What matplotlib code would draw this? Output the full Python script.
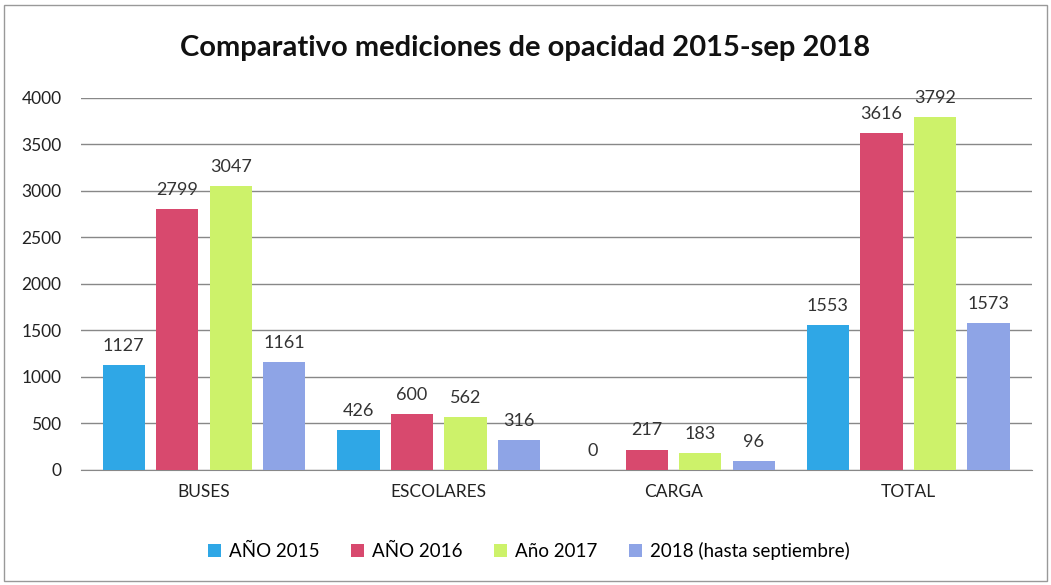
import matplotlib.pyplot as plt
import numpy as np

plt.rcParams['font.family'] = ['Lato', 'DejaVu Sans']

categorias = ['BUSES', 'ESCOLARES', 'CARGA', 'TOTAL']
series = ['AÑO 2015', 'AÑO 2016', 'Año 2017', '2018 (hasta septiembre)']
anio_2015 = [1127, 426, 0, 1553]
anio_2016 = [2799, 600, 217, 3616]
anio_2017 = [3047, 562, 183, 3792]
anio_2018 = [1161, 316, 96, 1573]
colores = ['#2fa7e6', '#d8496e', '#cdf26a', '#8ea4e6']

fig = plt.figure(figsize=(10.51, 5.85), dpi=100)
ax = fig.add_axes([0.077, 0.197, 0.905, 0.636])

x = np.arange(len(categorias))
ancho = 0.18
paso = 0.228
valores = [anio_2015, anio_2016, anio_2017, anio_2018]
for i, (vals, nombre, c) in enumerate(zip(valores, series, colores)):
    pos = x + (i - 1.5) * paso
    ax.bar(pos, vals, width=ancho, color=c, label=nombre, zorder=3)
    for p, v in zip(pos, vals):
        ax.text(p, v + 120, str(v), ha='center', va='bottom', fontsize=13, color='#333333')

ax.set_ylim(0, 4000)
ax.set_xlim(-0.524, 3.528)
ax.set_yticks(range(0, 4001, 500))
ax.set_xticks(x)
ax.set_xticklabels(categorias)
ax.tick_params(axis='both', length=0, labelsize=12.5, colors='#222222')
ax.tick_params(axis='y', pad=14)
ax.tick_params(axis='x', pad=10)
ax.yaxis.grid(True, color='#888888', linewidth=1, zorder=0)
for s in ['top', 'right', 'left']:
    ax.spines[s].set_visible(False)
ax.spines['bottom'].set_color('#888888')

fig.text(0.5, 0.918, 'Comparativo mediciones de opacidad 2015-sep 2018', ha='center', va='center',
         fontsize=21, fontweight='bold', color='#111111')

fig.legend(loc='center', bbox_to_anchor=(0.503, 0.058), ncol=4, frameon=False, fontsize=13.5,
           handlelength=0.7, handleheight=0.7, handletextpad=0.4, columnspacing=1.7)

fig.patches.append(plt.Rectangle((0.004, 0.007), 0.992, 0.985, transform=fig.transFigure,
                                 fill=False, edgecolor='#999999', linewidth=1))

fig.savefig('out.png', dpi=100)
